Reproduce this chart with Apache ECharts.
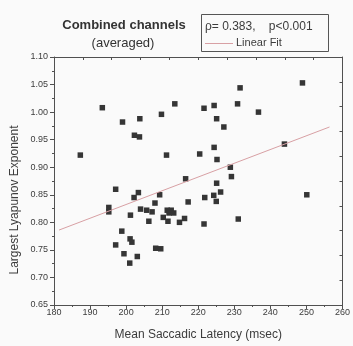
<!DOCTYPE html>
<html>
<head>
<meta charset="utf-8">
<script src="https://cdn.jsdelivr.net/npm/echarts@6/dist/echarts.min.js"></script>
<style>
  html, body { margin: 0; padding: 0; background: #fafafa; }
  #chart { width: 353px; height: 346px; }
</style>
</head>
<body>
<div id="chart"></div>
<script>
// mean saccadic latency (msec) per subject
const latency = [
  193.4, 213.5, 221.6, 199.0, 203.8, 209.8, 202.3, 203.7, 187.3, 211.2,
  220.4, 216.5, 224.4, 231.6, 230.9, 236.7, 248.9, 225.1, 227.1, 224.4,
  225.2, 243.9, 228.9, 229.2, 225.1, 197.1, 203.4, 202.2, 209.3, 195.2,
  195.2, 208.0, 217.2, 221.8, 204.0, 205.7, 207.2, 201.2, 211.4, 212.5,
  211.9, 213.2, 210.3, 211.6, 206.3, 216.2, 214.8, 221.6, 198.8, 201.1,
  201.6, 197.1, 208.2, 209.6, 199.4, 203.1, 201.0, 224.3, 226.2, 225.0,
  231.1, 250.1
];
// largest lyapunov exponent per subject
const exponent = [
  1.008, 1.015, 1.007, 0.982, 0.988, 0.996, 0.958, 0.955, 0.922, 0.922,
  0.924, 0.879, 1.012, 1.044, 1.015, 1.000, 1.053, 0.988, 0.973, 0.936,
  0.914, 0.942, 0.900, 0.883, 0.871, 0.860, 0.854, 0.845, 0.850, 0.827,
  0.819, 0.835, 0.837, 0.845, 0.824, 0.822, 0.819, 0.813, 0.822, 0.822,
  0.817, 0.817, 0.809, 0.802, 0.802, 0.807, 0.800, 0.797, 0.784, 0.770,
  0.764, 0.759, 0.753, 0.752, 0.743, 0.738, 0.726, 0.849, 0.855, 0.838,
  0.806, 0.850
];
// linear fit end points
const fitX = [181.4, 256.4];
const fitY = [0.786, 0.973];

const xTicks = [180, 260, 10];
const yTicks = [0.65, 1.10, 0.05];

const axisColor = '#505050';
const textColor = '#3c3c3c';
const fitColor = '#d8a0a4';
const font = 'Liberation Sans, Arial, sans-serif';

const chart = echarts.init(document.getElementById('chart'));

const points = latency.map((x, i) => [x, exponent[i]]);
const fitLine = fitX.map((x, i) => [x, fitY[i]]);

chart.setOption({
  backgroundColor: '#fafafa',
  animation: false,
  textStyle: { fontFamily: font },
  grid: { left: 54, right: 9, top: 57, bottom: 38 },
  xAxis: [
    {
      type: 'value',
      position: 'bottom',
      min: xTicks[0],
      max: xTicks[1],
      interval: xTicks[2],
      name: 'Mean Saccadic Latency (msec)',
      nameLocation: 'middle',
      nameGap: 24,
      nameTextStyle: { fontSize: 12, color: textColor },
      axisLine: { lineStyle: { color: axisColor, width: 1 } },
      axisTick: { length: 4, lineStyle: { color: axisColor } },
      minorTick: { show: true, splitNumber: 2, length: 2, lineStyle: { color: axisColor } },
      axisLabel: { fontSize: 9, color: textColor, margin: 3 },
      splitLine: { show: false }
    },
    {
      type: 'value',
      position: 'top',
      min: 0,
      max: 10,
      interval: 1,
      axisLine: { lineStyle: { color: axisColor, width: 1 } },
      axisTick: { inside: true, length: 3, lineStyle: { color: axisColor } },
      axisLabel: { show: false },
      splitLine: { show: false }
    }
  ],
  yAxis: [
    {
      type: 'value',
      position: 'left',
      min: yTicks[0],
      max: yTicks[1],
      interval: yTicks[2],
      axisLine: { show: true, lineStyle: { color: axisColor, width: 1 } },
      axisTick: { show: true, length: 4, lineStyle: { color: axisColor } },
      minorTick: { show: true, splitNumber: 2, length: 2, lineStyle: { color: axisColor } },
      axisLabel: { fontSize: 9, color: textColor, margin: 6, formatter: v => v.toFixed(2) },
      splitLine: { show: false }
    },
    {
      type: 'value',
      position: 'right',
      min: 0,
      max: 10,
      interval: 1,
      axisLine: { show: true, lineStyle: { color: axisColor, width: 1 } },
      axisTick: { show: true, inside: true, length: 3, lineStyle: { color: axisColor } },
      axisLabel: { show: false },
      splitLine: { show: false }
    }
  ],
  graphic: [
    // legend box
    {
      type: 'rect',
      shape: { x: 201.5, y: 14.5, width: 127, height: 37 },
      style: { fill: 'none', stroke: '#555', lineWidth: 1 }
    },
    {
      type: 'text',
      x: 205,
      y: 27,
      style: {
        text: 'ρ= 0.383,    p<0.001',
        fontSize: 12,
        fontFamily: font,
        fill: textColor,
        verticalAlign: 'middle'
      }
    },
    {
      type: 'line',
      shape: { x1: 205, y1: 43.5, x2: 233, y2: 43.5 },
      style: { stroke: fitColor, lineWidth: 1 }
    },
    {
      type: 'text',
      x: 236,
      y: 43,
      style: {
        text: 'Linear Fit',
        fontSize: 11,
        fontFamily: font,
        fill: textColor,
        verticalAlign: 'middle'
      }
    },
    // titles
    {
      type: 'text',
      x: 124,
      y: 25,
      style: {
        text: 'Combined channels',
        fontSize: 13,
        fontWeight: 'bold',
        fontFamily: font,
        fill: '#333',
        align: 'center',
        verticalAlign: 'middle'
      }
    },
    {
      type: 'text',
      x: 123,
      y: 43,
      style: {
        text: '(averaged)',
        fontSize: 13,
        fontFamily: font,
        fill: '#333',
        align: 'center',
        verticalAlign: 'middle'
      }
    },
    // y axis title
    {
      type: 'text',
      x: 15,
      y: 200,
      rotation: Math.PI / 2,
      style: {
        text: 'Largest Lyapunov Exponent',
        fontSize: 12,
        fontFamily: font,
        fill: textColor,
        align: 'center',
        verticalAlign: 'middle'
      }
    }
  ],
  series: [
    {
      name: 'data',
      type: 'scatter',
      xAxisIndex: 0,
      yAxisIndex: 0,
      symbol: 'rect',
      symbolSize: 5.5,
      itemStyle: { color: '#353535', opacity: 1 },
      data: points
    },
    {
      name: 'Linear Fit',
      type: 'line',
      xAxisIndex: 0,
      yAxisIndex: 0,
      symbol: 'none',
      lineStyle: { color: fitColor, width: 1 },
      data: fitLine
    }
  ]
});
</script>
</body>
</html>
